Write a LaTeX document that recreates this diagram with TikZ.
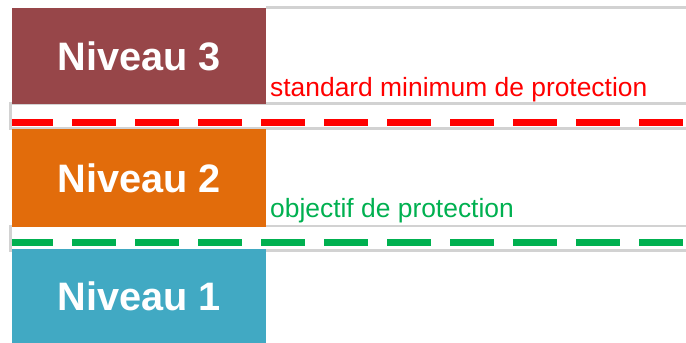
\documentclass[tikz,border=0pt]{standalone}
\usepackage{fontspec}
\setmainfont{Liberation Sans}
\definecolor{c3}{HTML}{974649}
\definecolor{c2}{HTML}{E26C0B}
\definecolor{c1}{HTML}{41A9C3}
\definecolor{gl}{HTML}{D2D2D2}
\definecolor{rd}{HTML}{FF0000}
\definecolor{gn}{HTML}{00B050}
\begin{document}
\begin{tikzpicture}[x=1pt,y=-1pt,
  level/.style={anchor=north west, inner sep=0pt, minimum width=254pt, text=white,
    font=\fontsize{39.7}{39.7}\selectfont\bfseries},
  grayline/.style={draw=gl, line width=2.4pt},
  gap/.style={line width=7pt, dash pattern=on 44pt off 19pt, dash phase=3pt},
  lbl/.style={anchor=base west, inner sep=0pt, font=\fontsize{26.4}{26.4}\selectfont}]
\useasboundingbox (0,0) rectangle (686,343);
% gray guide lines
\draw[grayline] (266,7.5) -- (690,7.5);
\draw[grayline] (690,103.5) -- (10.5,103.5) -- (10.5,128.5) -- (690,128.5);
\draw[grayline] (690,226) -- (10.5,226) -- (10.5,250.5) -- (690,250.5);
% level boxes
\node[level, fill=c3, minimum height=96pt] (n3) at (12,8) {Niveau 3};
\node[level, fill=c2, minimum height=98pt] (n2) at (12,129) {Niveau 2};
\node[level, fill=c1, minimum height=95pt] (n1) at (12,249) {Niveau 1};
% dashed thresholds
\draw[gap, draw=rd] (12,122.5) -- (686,122.5);
\draw[gap, draw=gn] (12,242.5) -- (686,242.5);
% labels
\node[lbl, text=rd] (t3) at (270,96) {standard minimum de protection};
\node[lbl, text=gn] (t2) at (270,217) {objectif de protection};
\end{tikzpicture}
\end{document}
